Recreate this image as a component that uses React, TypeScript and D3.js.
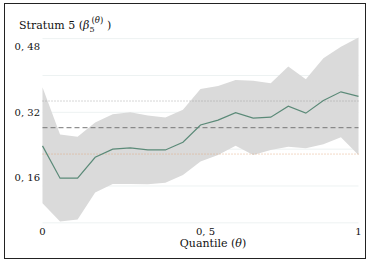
import React from "react";
import * as d3 from "d3";

const thetas = d3.range(19).map((i) => i / 18);
const median = [0.238, 0.159, 0.159, 0.21, 0.23, 0.233, 0.228, 0.228, 0.247, 0.289, 0.301, 0.319, 0.306, 0.308, 0.335, 0.318, 0.349, 0.37, 0.359];
const upper = [0.381, 0.266, 0.26, 0.295, 0.315, 0.32, 0.312, 0.307, 0.326, 0.377, 0.384, 0.399, 0.397, 0.391, 0.432, 0.401, 0.452, 0.48, 0.503];
const lower = [0.098, 0.053, 0.058, 0.124, 0.145, 0.145, 0.144, 0.148, 0.167, 0.2, 0.216, 0.238, 0.216, 0.228, 0.236, 0.232, 0.242, 0.259, 0.216];
const yTicks = [0.16, 0.32, 0.48];
const yTickLabels = ["0, 16", "0, 32", "0, 48"];
const xTicks = [0, 0.5, 1];
const xTickLabels = ["0", "0, 5", "1"];
const gridValues = [0.05, 0.14, 0.23, 0.32, 0.41, 0.5];
const refDashed = 0.2824;
const refDottedGray = 0.3476;
const refDottedOrange = 0.218;

const W = 373;
const H = 270;

export default function App() {
  const x = d3.scaleLinear().domain([0, 1]).range([42.5, 358.5]);
  const y = d3.scaleLinear().domain([0.16, 0.48]).range([177.8, 46.8]);
  const area = d3
    .area<number>()
    .x((_, i) => x(thetas[i]))
    .y0((_, i) => y(lower[i]))
    .y1((_, i) => y(upper[i]));
  const line = d3
    .line<number>()
    .x((_, i) => x(thetas[i]))
    .y((d) => y(d));
  const serif = "'DejaVu Serif', serif";
  const x0 = x(0);
  const x1 = x(1);
  return (
    <svg width={W} height={H} style={{ position: "absolute", left: 0, top: 0, background: "#fff" }}>
      <rect x={4.5} y={3.5} width={361} height={255} fill="#fff" stroke="#222" strokeWidth={1} />
      {gridValues.map((g) => (
        <line key={g} x1={x0} x2={x1} y1={y(g)} y2={y(g)} stroke="#edf2f2" strokeWidth={1} />
      ))}
      <path d={area(median) || ""} fill="#dadada" />
      <line x1={x0} x2={x1} y1={y(refDottedGray)} y2={y(refDottedGray)} stroke="#999" strokeWidth={0.8} strokeDasharray="1,2" />
      <line x1={x0} x2={x1} y1={y(refDottedOrange)} y2={y(refDottedOrange)} stroke="#e0a070" strokeWidth={0.8} strokeDasharray="1,2" />
      <line x1={x0} x2={x1} y1={y(refDashed)} y2={y(refDashed)} stroke="#777" strokeWidth={1} strokeDasharray="5,3" />
      <path d={line(median) || ""} fill="none" stroke="#5b8a78" strokeWidth={1.2} />
      {yTicks.map((t, i) => (
        <text key={t} x={40} y={y(t)} dy="0.35em" textAnchor="end" fontFamily={serif} fontSize={10} fill="#111">
          {yTickLabels[i]}
        </text>
      ))}
      {xTicks.map((t, i) => (
        <text key={t} x={x(t) + (t === 0.5 ? 5 : 0)} y={235} textAnchor="middle" fontFamily={serif} fontSize={10} fill="#111">
          {xTickLabels[i]}
        </text>
      ))}
      <text x={213} y={247} textAnchor="middle" fontFamily={serif} fontSize={11} fill="#111">
        Quantile (<tspan fontStyle="italic">θ</tspan>)
      </text>
      <text x={19} y={29} fontFamily={serif} fontSize={11} fill="#111">
        Stratum 5 (<tspan fontStyle="italic">β</tspan>
      </text>
      <text x={89.5} y={32} fontFamily={serif} fontSize={8} fill="#111">5</text>
      <text x={91.5} y={23} fontFamily={serif} fontSize={8.5} fill="#111">
        (<tspan fontStyle="italic">θ</tspan>)
      </text>
      <text x={107} y={29} fontFamily={serif} fontSize={11} fill="#111">)</text>
    </svg>
  );
}
